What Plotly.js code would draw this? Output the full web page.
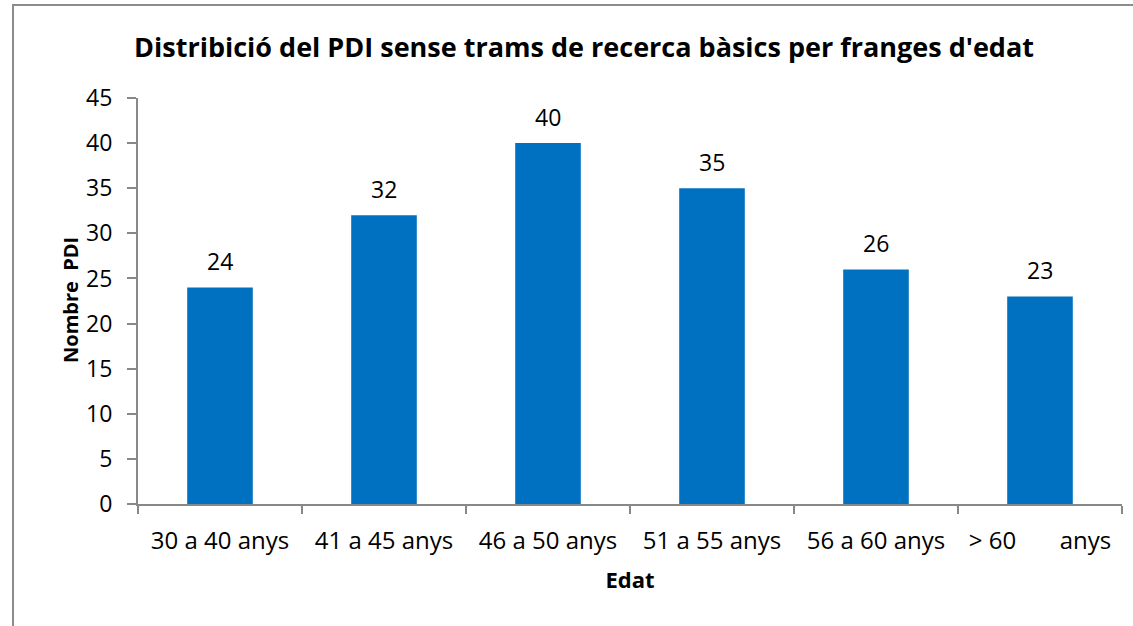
<!DOCTYPE html>
<html><head><meta charset="utf-8">
<script src="https://cdn.plot.ly/plotly-3.0.1.min.js"></script>
<style>body{margin:0;padding:0;background:#fff}#chart{width:1133px;height:626px}</style>
</head><body><div id="chart"></div>
<script>
const categories = ["30 a 40 anys","41 a 45 anys","46 a 50 anys","51 a 55 anys","56 a 60 anys","> 60\u00a0\u00a0\u00a0\u00a0\u00a0\u00a0 anys"];
const values = [24, 32, 40, 35, 26, 23];
const titleText = "Distribició del PDI sense trams de recerca bàsics per franges d'edat";
const xTitle = "Edat";
const yTitle = "Nombre  PDI";

const font = "Open Sans, Noto Sans, sans-serif";
const W = 1133, H = 626, L = 138, R = 11, T = 98, B = 122;
const pw = W - L - R, ph = H - T - B;
const px = v => (v - L) / pw, py = v => (H - B - v) / ph;

const trace = {
  type: 'bar', x: categories, y: values,
  marker: {color: '#0070C0'}, width: 0.4, hoverinfo: 'none'
};
const annotations = categories.map((c, i) => ({
  x: c, y: values[i], xref: 'x', yref: 'y', text: String(values[i]),
  showarrow: false, yanchor: 'bottom', yshift: 8,
  font: {family: font, size: 23, color: '#000'}
}));
annotations.push({
  xref: 'paper', yref: 'paper', x: px(70), y: py(300), xanchor: 'center', yanchor: 'middle',
  text: '<b>' + yTitle.replace(/ /g, '\u00a0') + '</b>',
  textangle: -90, showarrow: false, font: {family: font, size: 20, color: '#000'}
});
const layout = {
  width: W, height: H, margin: {l: L, r: R, t: T, b: B},
  paper_bgcolor: '#fff', plot_bgcolor: '#fff', showlegend: false,
  title: {text: '<b>' + titleText + '</b>', x: px(584), xref: 'paper', xanchor: 'center',
          y: 1 - 48 / H, yref: 'container', yanchor: 'middle',
          font: {family: font, size: 27, color: '#000'}},
  xaxis: {
    type: 'category', tickson: 'boundaries', ticks: 'outside', ticklen: 8, tickcolor: '#888', tickwidth: 2,
    showline: true, linecolor: '#888', linewidth: 2, showgrid: false, zeroline: false,
    tickfont: {family: font, size: 24, color: '#000'}, ticklabelstandoff: 14,
    title: {text: '<b>' + xTitle + '</b>', font: {family: font, size: 22, color: '#000'}, standoff: 18}
  },
  yaxis: {
    range: [0, 45], dtick: 5, ticks: 'outside', ticklen: 9, tickcolor: '#888', tickwidth: 2,
    showline: true, linecolor: '#888', linewidth: 2, showgrid: false, zeroline: false,
    tickfont: {family: font, size: 23, color: '#000'}, ticklabelstandoff: 10
  },
  annotations: annotations,
  shapes: [{type: 'rect', xref: 'paper', yref: 'paper', x0: px(13), x1: px(1160), y0: py(650), y1: py(5),
            line: {color: '#8c8c8c', width: 2}, fillcolor: 'rgba(0,0,0,0)', layer: 'below'}]
};
Plotly.newPlot('chart', [trace], layout, {staticPlot: true, displayModeBar: false});
</script></body></html>
